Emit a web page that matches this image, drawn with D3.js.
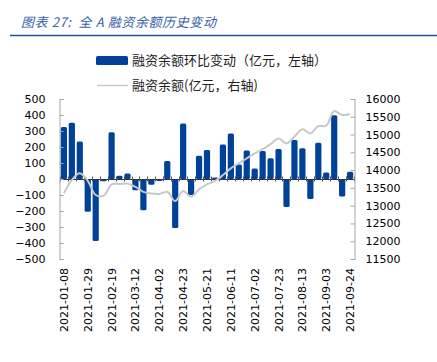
<!DOCTYPE html>
<html><head><meta charset="utf-8">
<script src="https://cdn.jsdelivr.net/npm/d3@7"></script>
<style>body{margin:0;background:#fff}svg{display:block}</style>
</head><body>
<script>
const dates = ["2021-01-08","2021-01-15","2021-01-22","2021-01-29","2021-02-05","2021-02-12","2021-02-19","2021-02-26","2021-03-05","2021-03-12","2021-03-19","2021-03-26","2021-04-02","2021-04-09","2021-04-16","2021-04-23","2021-04-30","2021-05-14","2021-05-21","2021-05-28","2021-06-04","2021-06-11","2021-06-18","2021-06-25","2021-07-02","2021-07-09","2021-07-16","2021-07-23","2021-07-30","2021-08-06","2021-08-13","2021-08-20","2021-08-27","2021-09-03","2021-09-10","2021-09-17","2021-09-24"];
const changes = [325,352,234,-204,-387,-14,292,20,35,-70,-196,-36,-13,112,-307,347,-100,146,182,10,216,284,90,178,65,175,130,188,-175,244,192,-125,226,40,398,-110,46];
const balance = [13350,13720,13910,13700,13300,13280,13600,13610,13620,13530,13390,13340,13330,13390,13130,13410,13250,13460,13600,13690,13860,14050,14190,14330,14470,14590,14730,14890,14750,14940,15150,15030,15240,15250,15660,15550,15580];
const leftTicks = [500,400,300,200,100,0,-100,-200,-300,-400,-500];
const rightTicks = [16000,15500,15000,14500,14000,13500,13000,12500,12000,11500];
const labelDates = ["2021-01-08","2021-01-29","2021-02-19","2021-03-12","2021-04-02","2021-04-23","2021-05-21","2021-06-11","2021-07-02","2021-07-23","2021-08-13","2021-09-03","2021-09-24"];
const title = "图表 27:  全 A 融资余额历史变动";
const legend1 = "融资余额环比变动（亿元，左轴）";
const legend2 = "融资余额(亿元，右轴)";

const W = 437, H = 362;
const svg = d3.select("body").append("svg").attr("width", W).attr("height", H);
const cjk = "'Noto Sans CJK SC', 'Noto Sans', sans-serif";
const num = "'DejaVu Sans', sans-serif";

// title
svg.append("text").attr("x", 21).attr("y", 27).text(title)
  .attr("xml:space", "preserve").style("white-space", "pre")
  .attr("font-family", cjk).attr("font-size", 13).attr("font-style", "italic")
  .attr("letter-spacing", 0.6)
  .attr("fill", "#3560a8");
svg.append("line").attr("x1", 10).attr("x2", W).attr("y1", 35.5).attr("y2", 35.5)
  .attr("stroke", "#1f4f9e").attr("stroke-width", 1.6);

// legend
svg.append("rect").attr("x", 96).attr("y", 56).attr("width", 32).attr("height", 9).attr("rx", 1.5).attr("fill", "#00419a");
svg.append("text").attr("x", 132).attr("y", 65).text(legend1)
  .attr("font-family", cjk).attr("font-size", 13).attr("fill", "#222");
svg.append("line").attr("x1", 97).attr("x2", 128).attr("y1", 85.5).attr("y2", 85.5).attr("stroke", "#c8c8c8").attr("stroke-width", 1.5);
svg.append("text").attr("x", 132).attr("y", 90).text(legend2)
  .attr("font-family", cjk).attr("font-size", 13).attr("fill", "#222");

const x = d3.scaleBand().domain(dates).range([60, 354]).paddingInner(0.22).paddingOuter(0.1);
const yL = d3.scaleLinear().domain([-500, 500]).range([259, 99]);
const yR = d3.scaleLinear().domain([11500, 16000]).range([259, 99]);

// bars
svg.append("g").selectAll("rect").data(dates).join("rect")
  .attr("x", d => x(d))
  .attr("width", x.bandwidth())
  .attr("y", (d, i) => yL(Math.max(0, changes[i])))
  .attr("height", (d, i) => Math.abs(yL(changes[i]) - yL(0)))
  .attr("rx", 1.5)
  .attr("fill", "#00419a");

// zero axis with category ticks
const y0 = Math.round(yL(0)) + 0.5;
svg.append("line").attr("x1", 60).attr("x2", 354).attr("y1", y0).attr("y2", y0).attr("stroke", "#333").attr("stroke-width", 1);
svg.append("g").selectAll("line").data(d3.range(dates.length + 1)).join("line")
  .attr("x1", i => Math.round(60 + i * (294 / dates.length)) + 0.5)
  .attr("x2", i => Math.round(60 + i * (294 / dates.length)) + 0.5)
  .attr("y1", y0 - 3).attr("y2", y0 + 2)
  .attr("stroke", "#555").attr("stroke-width", 1);

// line
const line = d3.line()
  .x((d, i) => x(dates[i]) + x.bandwidth() / 2)
  .y(d => yR(d))
  .curve(d3.curveCatmullRom.alpha(0.5));
svg.append("path").datum(balance).attr("d", line)
  .attr("fill", "none").attr("stroke", "#c8c8c8").attr("stroke-width", 2);

// left axis
const axL = d3.axisLeft(yL).tickValues(leftTicks).tickSize(-4).tickPadding(14).tickFormat(d3.format("d"));
const gL = svg.append("g").attr("transform", "translate(59.5,0)").call(axL);
gL.select(".domain").attr("stroke", "#a6a6a6");
gL.selectAll(".tick line").attr("stroke", "#a6a6a6");
gL.selectAll("text").attr("font-family", num).attr("font-size", 11).attr("fill", "#000");

// right axis
const axR = d3.axisRight(yR).tickValues(rightTicks).tickSize(-4).tickPadding(11).tickFormat(d3.format("d"));
const gR = svg.append("g").attr("transform", "translate(354.5,0)").call(axR);
gR.select(".domain").attr("stroke", "#a6a6a6");
gR.selectAll(".tick line").attr("stroke", "#a6a6a6");
gR.selectAll("text").attr("font-family", num).attr("font-size", 11).attr("fill", "#000");

// x labels
svg.append("g").selectAll("text").data(labelDates).join("text")
  .attr("transform", d => `translate(${x(d) + x.bandwidth() / 2 + 4},268) rotate(-90)`)
  .attr("text-anchor", "end")
  .attr("font-family", num).attr("font-size", 11).attr("fill", "#000")
  .text(d => d);
</script>
</body></html>
